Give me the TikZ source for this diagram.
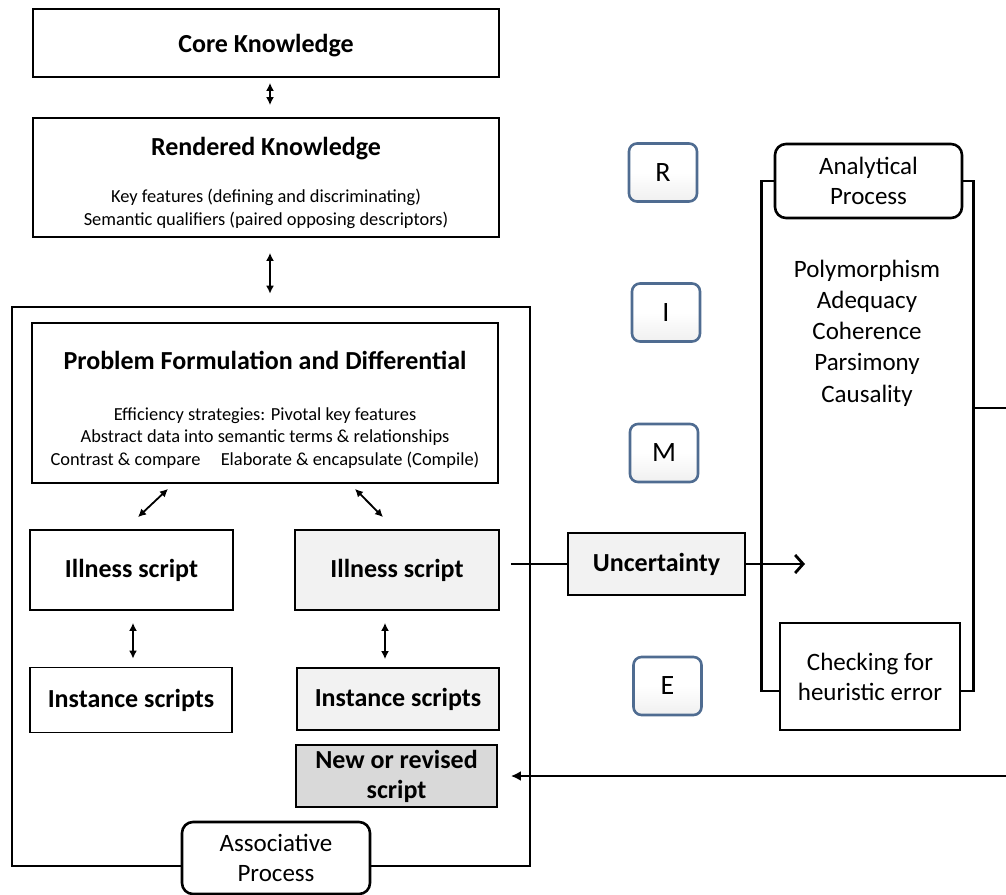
\documentclass[tikz,border=0pt]{standalone}
\usepackage{fontspec}
\setmainfont{Carlito}
\usetikzlibrary{arrows.meta, positioning, calc}

\definecolor{rimeblue}{RGB}{79,108,145}
\definecolor{lightfill}{RGB}{242,242,242}
\definecolor{darkfill}{RGB}{217,217,217}

\newcommand{\titlefont}{\fontsize{26}{30}\selectfont\bfseries}
\newcommand{\note}[1]{{\fontsize{18.4}{23.5}\selectfont\mdseries #1}}
\newcommand{\procfont}{\fontsize{25}{30}\selectfont}

\begin{document}
\begin{tikzpicture}[
      x=1pt, y=-1pt,
      box/.style={draw, line width=1.8pt, align=center, inner sep=0pt,
                  font=\titlefont},
      tab/.style={draw, line width=2.6pt, rounded corners=11pt, fill=white,
                  align=center, inner sep=0pt, font=\procfont},
      rime/.style={draw=rimeblue, line width=2.6pt, rounded corners=8pt,
                   top color=white, bottom color=gray!12, middle color=white,
                   minimum width=68pt, minimum height=58pt, inner sep=0pt,
                   font=\fontsize{28}{30}\selectfont},
      dbl/.style={{Latex[length=8pt,width=8pt]}-{Latex[length=8pt,width=8pt]},
                  line width=1.8pt},
      flow/.style={line width=2.8pt},
  ]
  \useasboundingbox (0,0) rectangle (1006,894);

  %% knowledge stack
  \node[box, minimum width=466pt, minimum height=68pt] (core) at (266,43)
       {\rule{0pt}{24pt}Core Knowledge};
  \node[box, minimum width=466pt, minimum height=119pt] (rendered) at (266,177.5)
       {\rule{0pt}{29pt}Rendered Knowledge\\[17pt]
        \note{Key features (defining and discriminating)}\\[-6.5pt]
        \note{Semantic qualifiers (paired opposing descriptors)}};

  %% associative process
  \node[draw, line width=2.6pt, minimum width=518pt, minimum height=559pt,
        inner sep=0pt] (assoc) at (271,586.5) {};
  \node[box, minimum width=466pt, minimum height=160pt] (pf) at (265,403)
       {\rule{0pt}{31pt}Problem Formulation and Differential\\[21pt]
        \note{Efficiency strategies: Pivotal key features}\\[-7.5pt]
        \note{Abstract data into semantic terms \& relationships}\\[-7.5pt]
        \note{Contrast \& compare\hspace{1.1em}Elaborate \& encapsulate (Compile)}};

  \node[box, minimum width=203pt, minimum height=80pt] (illL) at (131.5,570)
       {Illness script};
  \node[box, fill=lightfill, minimum width=204pt, minimum height=80pt] (illR) at (397,570)
       {Illness script};
  \node[box, minimum width=202pt, minimum height=65pt] (instL) at (131,700)
       {Instance scripts};
  \node[box, fill=lightfill, minimum width=202pt, minimum height=62pt] (instR) at (398,699)
       {Instance scripts};
  \node[box, fill=darkfill, minimum width=201pt, minimum height=62pt] (newS) at (396.5,776)
       {New or revised\\script};

  \node[tab, minimum width=188pt, minimum height=72pt] (assocTab) at (276,858)
       {Associative\\Process};

  %% middle
  \node[box, fill=lightfill, minimum width=177pt, minimum height=62pt] (unc) at (656.5,564)
       {Uncertainty};

  \node[rime] (rR) at (663,172.5) {R};
  \node[rime] (rI) at (666,312.5) {I};
  \node[rime] (rM) at (664,453) {M};
  \node[rime] (rE) at (667.5,686) {E};

  %% analytical process
  \node[tab, minimum width=187pt, minimum height=74pt] (ana) at (868.5,181)
       {Analytical\\Process};
  \node[draw, line width=2.6pt, fill=white, minimum width=180pt, minimum height=107pt,
        align=center, inner sep=0pt, font=\procfont] (chk) at (870,676.5)
       {Checking for\\heuristic error};
  \node[align=center, font=\fontsize{25}{31.3}\selectfont] (criteria) at (867,333)
       {Polymorphism\\Adequacy\\Coherence\\Parsimony\\Causality};

  \draw[line width=2.8pt] (ana.west) -- ++(-12,0) |- ([shift={(0,14.5)}]chk.west);
  \draw[line width=2.8pt] (ana.east) -- ++(10,0) coordinate (brR) |- ([shift={(0,14.5)}]chk.east);

  \coordinate (anaIn)  at (805,564);
  \coordinate (anaOut) at (1006,408);
  \coordinate (retIn)  at (1006,776);

  %% arrows
  \draw[dbl] ([shift={(4,5)}]core.south)      -- ([shift={(4,-12)}]rendered.north);
  \draw[dbl] ([shift={(4,15)}]rendered.south) -- ([shift={(-1,-12)}]assoc.north);
  \draw[dbl] ([shift={(6.5,-12)}]illL.north)  -- ([shift={(-97,5)}]pf.south);
  \draw[dbl] ([shift={(-14,-12)}]illR.north)  -- ([shift={(90,5)}]pf.south);
  \draw[dbl] ([shift={(1.5,12)}]illL.south)   -- ([shift={(2,-8)}]instL.north);
  \draw[dbl] ([shift={(-12,12)}]illR.south)   -- ([shift={(-13,-8)}]instR.north);

  \draw[flow] ([shift={(11,-6)}]illR.east) -- (unc.west);
  \draw[flow, -{Straight Barb[length=8pt,width=18pt]}] (unc.east) -- (anaIn);
  \draw[flow] (brR |- anaOut) -- (anaOut);
  \draw[line width=2pt, -{Latex[length=10pt,width=10pt]}] (retIn) -- ([shift={(13,0)}]newS.east);

  \end{tikzpicture}
\end{document}
